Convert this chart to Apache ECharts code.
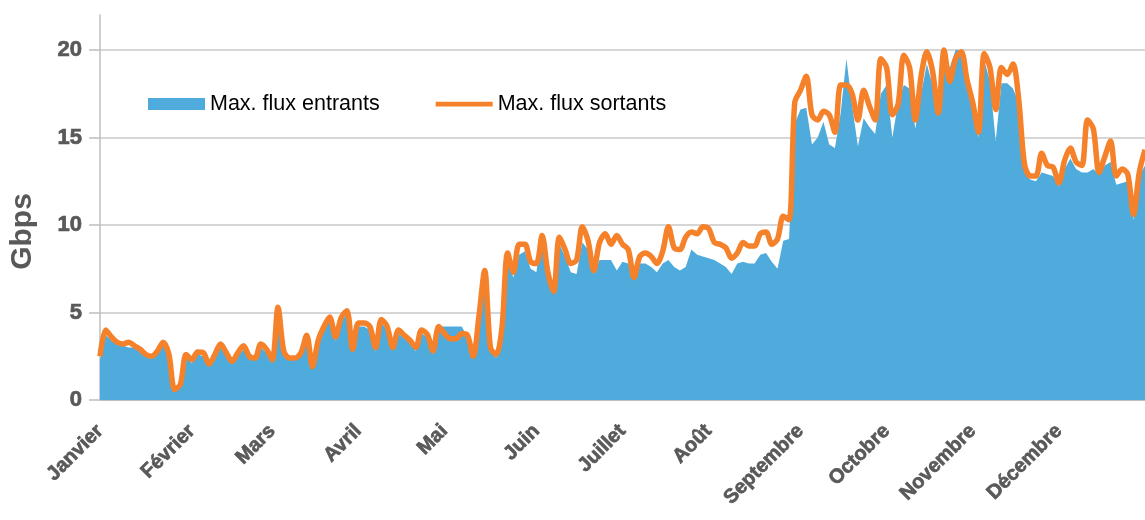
<!DOCTYPE html>
<html>
<head>
<meta charset="utf-8">
<script src="https://cdn.jsdelivr.net/npm/echarts@6/dist/echarts.min.js"></script>
<style>
  html, body { margin: 0; padding: 0; background: #fff; }
  #chart { width: 1145px; height: 520px; }
</style>
</head>
<body>
<div id="chart"></div>
<script>
// un point tous les 2 jours
var moisNoms = ['Janvier', 'Février', 'Mars', 'Avril', 'Mai', 'Juin', 'Juillet', 'Août', 'Septembre', 'Octobre', 'Novembre', 'Décembre'];
var moisDebut = [0, 16, 30, 45, 60, 76, 91, 106, 122, 137, 152, 167];

var entrants = [
  2.3, 3.7, 3.4, 3.2, 3.1, 3.0, 3.0, 2.8, 2.5, 2.4, 2.7, 3.1, 2.4, 0.5, 0.8, 2.5,
  2.1, 2.6, 2.5, 2.0, 2.4, 3.3, 2.5, 2.1, 2.5, 2.9, 2.4, 2.3, 3.0, 2.7, 2.2, 5.0, 2.6, 2.3, 2.3, 2.5,
  3.5, 1.8, 3.2, 4.0, 4.6, 3.4, 4.5, 4.9, 2.7, 4.2, 4.2, 4.0, 2.8, 4.4, 4.0, 2.9, 3.8,
  3.5, 3.3, 2.8, 3.8, 3.6, 2.6, 4.2, 4.2, 4.2, 4.2, 4.2, 3.6, 2.4, 4.5, 7.2, 2.8, 2.4, 3.9,
  8.0, 7.0, 8.3, 8.5, 7.5, 7.3, 9.6, 7.3, 6.4, 8.9, 8.2, 7.3, 7.2, 9.0, 8.6, 7.2, 8.0,
  8.0, 8.0, 7.4, 7.9, 7.8, 6.9, 7.8, 7.8, 7.6, 7.3, 7.8, 8.0, 7.6, 7.4, 7.6, 8.6, 8.3, 8.2,
  8.1, 8.0, 7.8, 7.6, 7.2, 7.8, 7.9, 7.8, 7.8, 8.3, 8.4, 7.9, 7.5, 9.1,
  9.2, 15.8, 16.6, 16.7, 14.6, 15.0, 15.9, 14.6, 14.4, 16.4, 19.5, 16.8, 14.5, 16.1, 15.6, 15.2, 17.5, 18.0,
  15.0, 17.0, 18.0, 17.8, 15.5, 17.5, 19.2, 18.0, 17.0, 19.7, 19.0, 20.0, 20.0, 18.3, 16.8, 15.0, 19.4, 18.2,
  14.8, 18.1, 18.1, 17.8, 17.0, 13.0, 12.6, 12.5, 13.0, 12.9, 12.8, 12.2, 13.2, 13.8, 13.2, 13.0,
  13.0, 13.2, 12.9, 13.4, 13.6, 12.3, 12.4, 12.5, 10.3, 12.8, 13.4
];

var sortants = [
  2.5, 4.0, 3.6, 3.3, 3.2, 3.3, 3.1, 2.9, 2.6, 2.5, 2.8, 3.3, 2.6, 0.6, 0.9, 2.6,
  2.3, 2.75, 2.7, 2.05, 2.6, 3.2, 2.7, 2.2, 2.7, 3.1, 2.5, 2.4, 3.2, 2.9, 2.3, 5.3, 2.8, 2.4, 2.4, 2.7,
  3.7, 1.9, 3.4, 4.2, 4.75, 3.6, 4.7, 5.1, 2.9, 4.4, 4.4, 4.2, 3.0, 4.6, 4.2, 3.0, 4.0,
  3.7, 3.4, 3.0, 4.0, 3.75, 2.8, 4.2, 3.8, 3.5, 3.5, 3.8, 3.7, 2.5, 4.8, 7.4, 3.0, 2.6, 4.1,
  8.4, 7.3, 8.9, 8.9, 7.9, 7.8, 9.4, 7.3, 6.2, 9.3, 8.6, 7.8, 8.0, 9.9, 9.1, 7.4, 9.0,
  9.5, 8.9, 9.4, 8.9, 8.6, 7.0, 8.2, 8.4, 8.2, 7.8, 8.5, 9.9, 8.7, 8.6, 9.3, 9.6, 9.5, 9.9,
  9.8, 9.0, 8.9, 8.7, 8.1, 8.4, 9.0, 8.8, 8.8, 9.5, 9.6, 8.9, 9.2, 10.5,
  10.3, 17.0, 17.7, 18.5, 16.3, 16.0, 16.5, 16.3, 15.3, 18.0, 18.0, 17.5, 16.0, 17.7, 16.8, 16.0, 19.5, 19.0,
  16.3, 16.9, 19.7, 19.0, 16.0, 18.5, 19.9, 18.8, 16.4, 20.0, 18.2, 19.5, 19.9, 18.3, 17.0, 15.3, 19.8, 19.0,
  16.6, 19.0, 18.6, 19.2, 17.2, 13.5, 12.8, 12.8, 14.1, 13.4, 13.3, 12.4, 13.7, 14.4, 13.6, 13.4,
  16.0, 15.5, 13.0, 13.9, 14.8, 12.8, 13.2, 12.9, 10.6, 13.0, 14.3
];

var yTicks = [0, 5, 10, 15, 20];

var jours = [];
for (var i = 0; i < entrants.length; i++) {
  jours.push('j' + (2 * i + 1));
}

var gris = '#595959';
var bleu = '#4fabdb', orange = '#f5822a';
var myChart = echarts.init(document.getElementById('chart'));
var option = {
  animation: false,
  grid: { left: 100, right: 0, top: 15, bottom: 120, containLabel: false },
  legend: {
    left: 143, top: 88,
    itemWidth: 57, itemHeight: 12, itemGap: 56,
    textStyle: { color: '#000', fontSize: 21.5, fontFamily: 'Liberation Sans' },
    data: [
      { name: 'Max. flux entrants', icon: 'rect' },
      { name: 'Max. flux sortants', icon: 'path://M0,0h60v5h-60z' }
    ]
  },
  xAxis: {
    type: 'category',
    boundaryGap: false,
    data: jours,
    axisLine: { show: true, lineStyle: { color: '#bfbfbf' } },
    axisTick: { show: false },
    axisLabel: {
      rotate: 45,
      margin: 28,
      color: gris,
      fontSize: 20,
      fontWeight: 'bold',
      fontFamily: 'Liberation Sans',
      textBorderColor: gris,
      textBorderWidth: 0.7,
      interval: function (idx) { return moisDebut.indexOf(idx) >= 0; },
      formatter: function (val, idx) { return moisNoms[moisDebut.indexOf(idx)] || ''; }
    }
  },
  yAxis: {
    type: 'value',
    min: 0, max: 22, interval: 5,
    name: 'Gbps',
    nameLocation: 'middle',
    nameGap: 62,
    nameTextStyle: { color: gris, fontSize: 30, fontWeight: 'bold', fontFamily: 'Liberation Sans', padding: [0, 48, 0, 0] },
    axisLine: { show: true, lineStyle: { color: '#bfbfbf', width: 1.5 } },
    axisTick: { show: true, length: 11, customValues: yTicks, lineStyle: { color: '#bfbfbf', width: 1.5 } },
    axisLabel: {
      customValues: yTicks, margin: 18, color: gris, fontSize: 22, fontWeight: 'bold',
      fontFamily: 'Liberation Sans', textBorderColor: gris, textBorderWidth: 0.7
    },
    splitLine: { lineStyle: { color: '#c8c8c8', width: 1.5 } }
  },
  series: [
    {
      name: 'Max. flux entrants',
      type: 'line',
      data: entrants,
      symbol: 'none',
      itemStyle: { color: bleu },
      lineStyle: { width: 0 },
      areaStyle: { color: bleu, opacity: 1 }
    },
    {
      name: 'Max. flux sortants',
      type: 'line',
      data: sortants,
      symbol: 'none',
      smooth: 0.3,
      itemStyle: { color: orange },
      lineStyle: { color: orange, width: 5.5 }
    }
  ]
};
myChart.setOption(option);
</script>
</body>
</html>
